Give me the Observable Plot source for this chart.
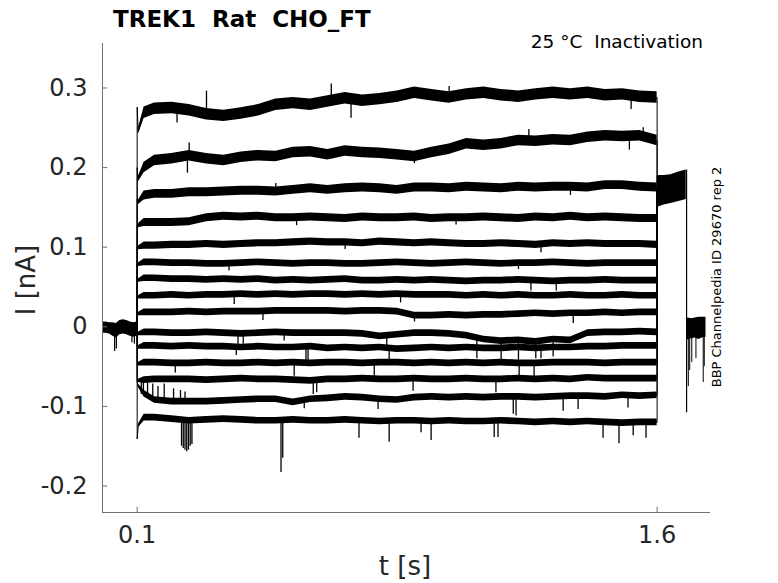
<!DOCTYPE html>
<html><head><meta charset="utf-8">
<script src="https://cdn.jsdelivr.net/npm/d3@7"></script>
<script src="https://cdn.jsdelivr.net/npm/@observablehq/plot@0.6"></script>
<style>body{margin:0;background:#fff;} #chart{position:relative;width:778px;height:583px;}</style>
</head><body><div id="chart"></div>
<script>
// ---- data (t in s, I in nA) ----
const timeGrid = [0.12,0.15,0.20,0.25,0.30,0.35,0.40,0.45,0.50,0.55,0.60,0.65,0.70,0.75,0.80,0.85,0.90,0.95,1.00,1.05,1.10,1.15,1.20,1.25,1.30,1.35,1.40,1.45,1.50,1.55,1.60];
const trace1  = [0.269,0.274,0.275,0.272,0.267,0.265,0.268,0.272,0.279,0.281,0.279,0.283,0.287,0.284,0.286,0.289,0.294,0.291,0.288,0.292,0.294,0.291,0.289,0.292,0.294,0.292,0.294,0.291,0.292,0.289,0.288];
const trace2  = [0.200,0.209,0.211,0.215,0.211,0.209,0.213,0.215,0.214,0.219,0.220,0.216,0.221,0.219,0.218,0.216,0.214,0.219,0.223,0.230,0.228,0.230,0.234,0.233,0.235,0.234,0.238,0.240,0.239,0.240,0.234];
const trace3  = [0.165,0.167,0.167,0.169,0.169,0.170,0.171,0.171,0.170,0.172,0.174,0.172,0.174,0.175,0.174,0.172,0.175,0.175,0.174,0.176,0.175,0.174,0.176,0.175,0.176,0.176,0.175,0.178,0.178,0.176,0.175];
const trace4  = [0.131,0.131,0.131,0.132,0.137,0.139,0.138,0.139,0.137,0.137,0.138,0.137,0.136,0.138,0.137,0.137,0.138,0.136,0.137,0.137,0.138,0.137,0.136,0.138,0.137,0.139,0.137,0.138,0.137,0.136,0.136];
const trace5  = [0.102,0.102,0.103,0.103,0.104,0.103,0.104,0.105,0.105,0.106,0.107,0.106,0.106,0.105,0.107,0.106,0.105,0.106,0.105,0.104,0.104,0.105,0.104,0.103,0.105,0.104,0.105,0.104,0.104,0.104,0.103];
const trace6  = [0.081,0.081,0.080,0.080,0.079,0.079,0.080,0.081,0.080,0.079,0.080,0.080,0.079,0.079,0.080,0.081,0.080,0.079,0.080,0.081,0.080,0.079,0.080,0.080,0.081,0.080,0.079,0.080,0.080,0.080,0.080];
const trace7  = [0.061,0.061,0.060,0.060,0.059,0.060,0.059,0.060,0.058,0.059,0.058,0.059,0.060,0.058,0.058,0.059,0.058,0.059,0.058,0.057,0.058,0.058,0.059,0.058,0.057,0.058,0.058,0.059,0.058,0.058,0.058];
const trace8  = [0.039,0.039,0.040,0.039,0.040,0.040,0.041,0.040,0.041,0.040,0.041,0.041,0.040,0.041,0.040,0.041,0.040,0.040,0.040,0.039,0.040,0.039,0.040,0.039,0.039,0.040,0.039,0.039,0.040,0.039,0.039];
const trace9  = [0.018,0.018,0.018,0.019,0.018,0.019,0.019,0.019,0.020,0.020,0.020,0.020,0.019,0.020,0.020,0.019,0.014,0.014,0.015,0.014,0.015,0.015,0.016,0.017,0.016,0.017,0.017,0.018,0.017,0.018,0.018];
const trace10 = [-0.007,-0.007,-0.008,-0.008,-0.007,-0.008,-0.009,-0.008,-0.007,-0.008,-0.008,-0.008,-0.008,-0.009,-0.012,-0.010,-0.008,-0.008,-0.009,-0.011,-0.016,-0.018,-0.017,-0.019,-0.016,-0.017,-0.008,-0.007,-0.007,-0.006,-0.007];
const trace11 = [-0.024,-0.024,-0.025,-0.024,-0.025,-0.025,-0.026,-0.025,-0.026,-0.026,-0.025,-0.027,-0.026,-0.027,-0.026,-0.028,-0.027,-0.026,-0.027,-0.026,-0.027,-0.027,-0.026,-0.027,-0.026,-0.026,-0.025,-0.025,-0.024,-0.024,-0.024];
const trace12 = [-0.045,-0.045,-0.046,-0.046,-0.045,-0.046,-0.046,-0.045,-0.046,-0.045,-0.046,-0.045,-0.045,-0.046,-0.045,-0.045,-0.046,-0.045,-0.046,-0.045,-0.046,-0.045,-0.046,-0.046,-0.045,-0.045,-0.045,-0.046,-0.045,-0.045,-0.045];
const trace13 = [-0.067,-0.066,-0.066,-0.066,-0.067,-0.066,-0.065,-0.066,-0.066,-0.067,-0.068,-0.066,-0.066,-0.065,-0.066,-0.066,-0.065,-0.066,-0.066,-0.065,-0.066,-0.066,-0.065,-0.066,-0.065,-0.066,-0.064,-0.065,-0.065,-0.065,-0.065];
const trace14 = [-0.084,-0.092,-0.094,-0.094,-0.094,-0.093,-0.092,-0.091,-0.091,-0.095,-0.091,-0.090,-0.088,-0.089,-0.091,-0.092,-0.089,-0.088,-0.089,-0.088,-0.089,-0.088,-0.088,-0.089,-0.088,-0.087,-0.087,-0.088,-0.086,-0.087,-0.086];
const trace15 = [-0.114,-0.114,-0.116,-0.118,-0.117,-0.116,-0.117,-0.118,-0.118,-0.117,-0.118,-0.118,-0.117,-0.118,-0.119,-0.118,-0.118,-0.119,-0.118,-0.119,-0.119,-0.118,-0.119,-0.120,-0.119,-0.120,-0.119,-0.120,-0.121,-0.120,-0.120];
const traces = [trace1,trace2,trace3,trace4,trace5,trace6,trace7,trace8,trace9,trace10,trace11,trace12,trace13,trace14,trace15];

// step onset (t = 0.1) and value just after it (t = 0.103)
const stepStart = 0.1, earlyT = 0.103, stepEnd = 1.6;
const onsetValues = [0.276,0.200,0.160,0.128,0.100,0.079,0.059,0.038,0.017,-0.008,-0.025,-0.046,-0.068,-0.070,-0.141];
const earlyValues = [0.245,0.185,0.156,0.127,0.099,0.078,0.058,0.037,0.016,-0.009,-0.026,-0.047,-0.068,-0.074,-0.125];
const noiseHalf   = [0.0072,0.0066,0.0056,0.005,0.0045,0.0042,0.0042,0.0042,0.0042,0.0042,0.0042,0.0042,0.0042,0.0042,0.0042];

// holding before the step
const preT  = [0.000,0.010,0.020,0.030,0.040,0.050,0.060,0.070,0.080,0.090,0.100];
const preLo = [-0.008,-0.008,-0.009,-0.012,-0.014,-0.010,-0.009,-0.010,-0.012,-0.013,-0.012];
const preHi = [0.006,0.006,0.005,0.005,0.004,0.008,0.009,0.008,0.006,0.005,0.006];
const preSpikeT = [0.035,0.040,0.085,0.092];
const preSpikeV = [-0.031,-0.028,-0.020,-0.022];

// test pulse after the step (all traces together)
const testLevel = 0.172;
const postT  = [1.600,1.620,1.640,1.660,1.684];
const postLo = [0.150,0.153,0.155,0.157,0.160];
const postHi = [0.190,0.190,0.191,0.194,0.197];
const dropT = 1.685, dropLow = -0.108;
const post2T  = [1.685,1.690,1.700,1.710,1.720,1.730,1.741];
const post2Lo = [-0.018,-0.016,-0.015,-0.014,-0.016,-0.014,-0.013];
const post2Hi = [0.010,0.011,0.010,0.011,0.012,0.012,0.012];
const post2SpikeT = [1.690,1.694,1.700,1.712,1.733,1.736];
const post2SpikeV = [-0.075,-0.055,-0.045,-0.040,-0.070,-0.050];

// brief excursions on individual traces (trace number, t, value)
const spikeTrace = [1,1,1,1,1,1, 2,2,2,2,2,2, 3,3, 4,4, 5,5, 6,6, 7,7, 8,8, 9,9,9,
  10,10,10,10,10,10,10,10,10, 11,11,11,11,11, 12,12,12,12,12, 13,13,13,13,13,
  14,14,14,14,14,14,14,14,14,14,14,14,14,14,14,
  15,15,15,15,15,15,15,15,15,15,15,15,15,15,15,15,15,15,15];
const spikeT = [0.300,0.660,0.717,1.000,1.525,0.215, 0.245,0.250,0.900,1.230,1.560,1.520, 0.500,1.350, 0.560,1.020, 1.265,0.700, 0.365,1.200, 1.236,1.309, 0.380,0.860, 1.358,0.463,0.900,
  0.391,0.406,0.524,1.080,1.150,1.200,1.250,1.300,0.820, 0.386,0.587,0.593,0.827,1.265, 0.210,0.553,0.784,1.202,1.245, 0.112,0.608,0.618,0.896,1.135,
  0.118,0.130,0.145,0.160,0.178,0.205,0.225,0.238,0.582,0.795,1.185,1.193,1.329,1.372,1.516,
  0.228,0.233,0.238,0.243,0.248,0.253,0.258,0.515,0.520,0.740,0.827,0.919,0.948,1.130,1.141,1.444,1.490,1.531,1.568];
const spikeV = [0.296,0.305,0.262,0.302,0.273,0.256, 0.193,0.231,0.205,0.248,0.250,0.222, 0.180,0.165, 0.127,0.128, 0.093,0.097, 0.070,0.072, 0.045,0.045, 0.028,0.030, 0.004,0.008,0.006,
  -0.024,-0.022,-0.018,-0.040,-0.042,-0.045,-0.040,-0.038,-0.026, -0.036,-0.045,-0.042,-0.043,-0.040, -0.058,-0.062,-0.065,-0.068,-0.065, -0.085,-0.085,-0.083,-0.081,-0.083,
  -0.068,-0.070,-0.072,-0.075,-0.072,-0.078,-0.080,-0.082,-0.103,-0.104,-0.110,-0.112,-0.106,-0.104,-0.102,
  -0.150,-0.153,-0.155,-0.157,-0.155,-0.150,-0.148,-0.183,-0.165,-0.140,-0.145,-0.133,-0.143,-0.139,-0.139,-0.140,-0.147,-0.137,-0.140];

// axes
const xDomain = [0, 1.754];
const yDomain = [-0.2333, 0.3559];
const xTicks = [0.1, 1.6];
const xTickLabels = ["0.1", "1.6"];
const yTicks = [-0.2, -0.1, 0, 0.1, 0.2, 0.3];
const yTickLabels = ["-0.2", "-0.1", "0", "0.1", "0.2", "0.3"];
const titleText = "TREK1  Rat  CHO_FT";
const noteText = "25 °C  Inactivation";
const sideText = "BBP Channelpedia ID 29670 rep 2";
const xLabel = "t [s]";
const yLabel = "I [nA]";

// ---- build tables ----
function baseAt(vals, t) {
  const i = d3.bisectLeft(timeGrid, t);
  if (i <= 0) return vals[0];
  if (i >= timeGrid.length) return vals[vals.length - 1];
  const t0 = timeGrid[i - 1], t1 = timeGrid[i];
  return vals[i - 1] + (vals[i] - vals[i - 1]) * (t - t0) / (t1 - t0);
}
const lineRows = [], bandRows = [];
traces.forEach((vals, k) => {
  lineRows.push({trace: k, t: stepStart, v: 0});
  lineRows.push({trace: k, t: stepStart, v: onsetValues[k]});
  lineRows.push({trace: k, t: earlyT, v: earlyValues[k]});
  bandRows.push({trace: k, t: earlyT, lo: earlyValues[k] - noiseHalf[k] / 2, hi: earlyValues[k] + noiseHalf[k] / 2});
  vals.forEach((v, i) => {
    lineRows.push({trace: k, t: timeGrid[i], v});
    bandRows.push({trace: k, t: timeGrid[i], lo: v - noiseHalf[k], hi: v + noiseHalf[k]});
  });
  lineRows.push({trace: k, t: stepEnd, v: testLevel});
});
const spikeRows = spikeT.map((t, i) => ({t, v: spikeV[i], base: baseAt(traces[spikeTrace[i] - 1], t)}));
const preRows = preT.map((t, i) => ({t, lo: preLo[i], hi: preHi[i]}));
const preSpikeRows = preSpikeT.map((t, i) => ({t, v: preSpikeV[i], base: 0}));
const postRows = postT.map((t, i) => ({t, lo: postLo[i], hi: postHi[i]}));
const post2Rows = post2T.map((t, i) => ({t, lo: post2Lo[i], hi: post2Hi[i]}));
const post2SpikeRows = post2SpikeT.map((t, i) => ({t, v: post2SpikeV[i], base: 0}));
const xLab = new Map(xTicks.map((d, i) => [d, xTickLabels[i]]));
const yLab = new Map(yTicks.map((d, i) => [d, yTickLabels[i]]));
const axisColor = "#707070";
const xTickLen = 0.015, yTickLen = 0.0066;

const svg = Plot.plot({
  width: 778, height: 583,
  marginLeft: 102, marginRight: 68, marginTop: 43, marginBottom: 71,
  x: {domain: xDomain},
  y: {domain: yDomain},
  style: {fontFamily: "DejaVu Sans", fontSize: "24px", color: "#262626", background: "#fff"},
  marks: [
    Plot.areaY(preRows, {x: "t", y1: "lo", y2: "hi", fill: "black"}),
    Plot.ruleX(preSpikeRows, {x: "t", y1: "base", y2: "v", stroke: "black", strokeWidth: 1.2}),
    Plot.areaY(bandRows, {x: "t", y1: "lo", y2: "hi", z: "trace", fill: "black"}),
    Plot.line(lineRows, {x: "t", y: "v", z: "trace", stroke: "black", strokeWidth: 1}),
    Plot.ruleX(spikeRows, {x: "t", y1: "base", y2: "v", stroke: "black", strokeWidth: 1.3}),
    Plot.areaY(postRows, {x: "t", y1: "lo", y2: "hi", fill: "black"}),
    Plot.ruleX([dropT], {y1: dropLow, y2: postHi[postHi.length - 1], stroke: "black", strokeWidth: 1.2}),
    Plot.areaY(post2Rows, {x: "t", y1: "lo", y2: "hi", fill: "black"}),
    Plot.ruleX(post2SpikeRows, {x: "t", y1: "base", y2: "v", stroke: "black", strokeWidth: 1}),
    // axes
    Plot.ruleX([xDomain[0]], {stroke: axisColor}),
    Plot.ruleY([yDomain[0]], {stroke: axisColor}),
    Plot.ruleY(yTicks, {x1: xDomain[0], x2: xDomain[0] + xTickLen, stroke: axisColor}),
    Plot.ruleX(xTicks, {y1: yDomain[0], y2: yDomain[0] + yTickLen, stroke: axisColor}),
    Plot.axisY(yTicks, {tickSize: 0, tickPadding: 15, tickFormat: d => yLab.get(d), label: null, fill: "#262626"}),
    Plot.axisX(xTicks, {tickSize: 0, tickPadding: 13, tickFormat: d => xLab.get(d), label: null, fill: "#262626"})
  ]
});
document.getElementById("chart").appendChild(svg);

const s = d3.select(svg);
s.append("text").attr("x", 113).attr("y", 27).attr("text-anchor", "start").attr("font-family", "DejaVu Sans").attr("font-weight", "bold")
  .attr("font-size", 23).attr("fill", "#000").style("white-space", "pre").text(titleText);
s.append("text").attr("x", 703).attr("y", 48).attr("text-anchor", "end").attr("font-family", "DejaVu Sans")
  .attr("font-size", 18.5).attr("fill", "#000").style("white-space", "pre").text(noteText);
s.append("text").attr("transform", "translate(721,277) rotate(-90)").attr("text-anchor", "middle")
  .attr("font-family", "DejaVu Sans").attr("font-size", 13).attr("fill", "#000").text(sideText);
s.append("text").attr("x", 405).attr("y", 575).attr("text-anchor", "middle").attr("font-family", "DejaVu Sans")
  .attr("font-size", 26).attr("fill", "#262626").text(xLabel);
s.append("text").attr("transform", "translate(35,280) rotate(-90)").attr("text-anchor", "middle")
  .attr("font-family", "DejaVu Sans").attr("font-size", 26).attr("fill", "#262626").text(yLabel);
</script>
</body></html>
